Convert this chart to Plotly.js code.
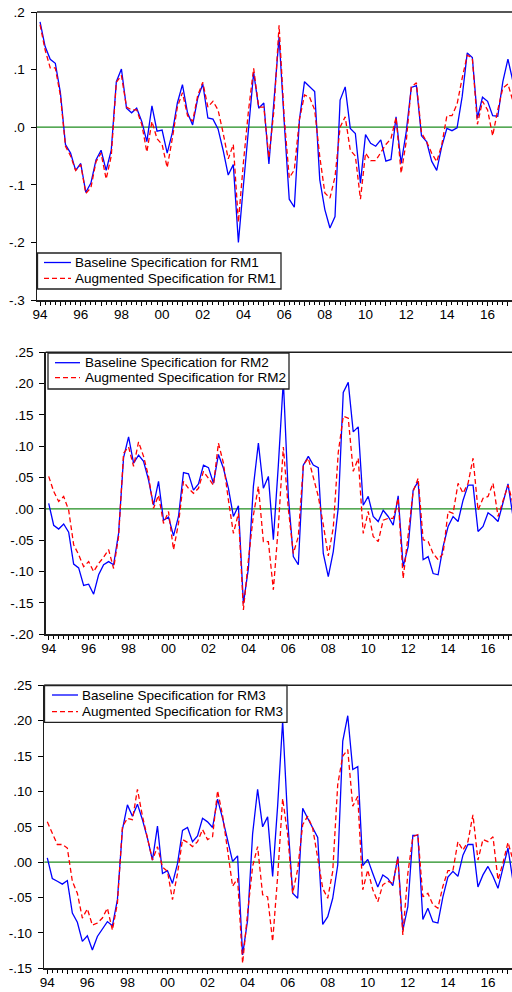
<!DOCTYPE html>
<html>
<head>
<meta charset="utf-8">
<script src="https://cdn.plot.ly/plotly-3.0.1.min.js"></script>
<style>
html,body{margin:0;padding:0;background:#fff;}
#chart{width:512px;height:992px;}
</style>
</head>
<body>
<div id="chart"></div>
<script>
// ---------------- DATA ----------------
// Quarterly observations, 1994Q1 .. 2017Q2
const firstYear = 1994;
const nObs = 94;
const periods = [];
for (let k = 0; k < nObs; k++) {
  periods.push((firstYear + Math.floor(k / 4)) + 'Q' + ((k % 4) + 1));
}

const baselineRM1 = [
  .183,.140,.118,.111,.060,-.030,-.045,-.075,-.063,-.113,
  -.097,-.057,-.040,-.075,-.040,.079,.101,.033,.025,.033,
  .010,-.025,.037,-.007,-.005,-.045,-.010,.042,.074,.025,
  .004,.050,.075,.016,.014,-.003,-.040,-.083,-.065,-.200,
  -.100,.000,.095,.033,.042,-.064,.040,.157,.010,-.125,
  -.139,.013,.079,.070,.062,-.091,-.143,-.175,-.155,.047,
  .070,-.002,-.011,-.097,-.013,-.028,-.033,-.022,-.059,-.056,
  .018,-.063,-.008,.069,.072,-.015,-.025,-.059,-.075,-.033,
  -.002,-.006,-.001,.053,.129,.121,.016,.052,.045,.020,
  .019,.079,.118,.079
];
const augmentedRM1 = [
  .178,.134,.103,.103,.055,-.033,-.050,-.075,-.065,-.115,
  -.105,-.060,-.045,-.090,-.050,.078,.090,.035,.030,.030,
  .005,-.043,.010,-.020,-.030,-.070,-.020,.035,.060,.020,
  .010,.055,.078,.035,.045,.030,-.010,-.055,-.030,-.165,
  -.060,.030,.102,.035,.035,-.053,.030,.177,.018,-.088,
  -.074,.013,.056,.052,.030,-.051,-.114,-.123,-.086,.000,
  .018,-.040,-.050,-.125,-.045,-.058,-.058,-.045,-.030,-.020,
  .017,-.080,-.025,.070,.077,-.010,-.025,-.045,-.060,-.030,
  .020,.020,.040,.085,.125,.120,.005,.045,.030,-.015,
  .030,.068,.075,.045
];
const baselineRM2 = [
  .009,-.026,-.032,-.024,-.037,-.088,-.094,-.122,-.120,-.136,
  -.105,-.089,-.084,-.089,-.039,.082,.115,.073,.086,.076,
  .046,.006,.044,-.018,-.013,-.043,-.012,.058,.056,.030,
  .040,.070,.066,.041,.087,.065,.033,-.012,.005,-.151,
  -.095,.036,.105,.033,.052,-.049,.070,.205,.020,-.076,
  -.089,.070,.084,.070,.066,-.071,-.108,-.068,.002,.186,
  .202,.123,.131,.006,.020,-.012,-.020,-.002,-.012,-.026,
  .021,-.092,-.060,.030,.044,-.081,-.076,-.103,-.105,-.060,
  -.028,-.012,-.020,.014,.038,.038,-.036,-.028,-.006,-.012,
  -.020,.012,.040,-.012
];
const augmentedRM2 = [
  .052,.028,.012,.020,-.002,-.057,-.073,-.092,-.084,-.100,
  -.087,-.077,-.065,-.095,-.044,.089,.099,.068,.107,.084,
  .052,.001,.022,-.023,-.004,-.065,-.023,.044,.033,.025,
  .033,.060,.049,.038,.105,.073,.014,-.039,-.007,-.161,
  -.081,-.010,.036,-.052,-.052,-.129,-.028,.099,.000,-.071,
  -.044,.070,.081,.050,.020,-.025,-.075,-.030,.090,.148,
  .145,.060,.081,-.039,-.004,-.044,-.052,-.018,-.015,-.015,
  .017,-.111,-.044,.028,.049,-.049,-.052,-.071,-.081,-.071,
  -.004,-.007,.041,.025,.041,.081,-.002,.017,.020,.041,
  -.012,.014,.038,.009
];
const baselineRM3 = [
  .006,-.023,-.027,-.031,-.026,-.072,-.085,-.112,-.104,-.124,
  -.105,-.095,-.084,-.090,-.053,.046,.081,.065,.082,.060,
  .034,.003,.051,-.016,-.012,-.030,-.002,.045,.049,.029,
  .037,.062,.057,.049,.089,.062,.032,.001,.009,-.131,
  -.082,.040,.103,.050,.064,-.020,.080,.200,.060,-.044,
  -.051,.076,.062,.048,.035,-.088,-.077,-.051,-.004,.171,
  .207,.131,.135,-.005,.004,-.016,-.035,-.018,-.023,-.033,
  .008,-.096,-.063,.038,.038,-.081,-.065,-.084,-.086,-.049,
  -.021,-.013,-.020,.010,.025,.025,-.035,-.018,-.006,-.020,
  -.037,-.008,.020,-.027
];
const augmentedRM3 = [
  .057,.041,.025,.025,.020,-.027,-.044,-.079,-.066,-.089,
  -.086,-.079,-.065,-.096,-.058,.050,.062,.060,.103,.065,
  .032,.003,.022,-.007,-.013,-.053,-.016,.032,.028,.022,
  .029,.046,.032,.036,.101,.066,.017,-.034,-.023,-.143,
  -.072,-.006,.022,-.046,-.049,-.112,-.020,.090,.039,-.044,
  -.010,.053,.065,.048,.006,-.037,-.051,-.013,.110,.150,
  .159,.079,.093,-.039,-.011,-.039,-.056,-.032,-.027,-.030,
  .006,-.103,-.016,.036,.039,-.049,-.044,-.060,-.065,-.034,
  -.012,-.012,.029,.017,.029,.067,.003,.032,.029,.036,
  -.025,-.001,.028,.003
];

const seriesNames = [
  ['Baseline Specification for RM1', 'Augmented Specification for RM1'],
  ['Baseline Specification for RM2', 'Augmented Specification for RM2'],
  ['Baseline Specification for RM3', 'Augmented Specification for RM3']
];

const xTickYears = [1994,1995,1996,1997,1998,1999,2000,2001,2002,2003,2004,2005,
                    2006,2007,2008,2009,2010,2011,2012,2013,2014,2015,2016,2017];
const xTickText  = ['94','','96','','98','','00','','02','','04','',
                    '06','','08','','10','','12','','14','','16',''];

const yTicks1 = [-0.3,-0.2,-0.1,0,0.1,0.2];
const yTickText1 = ['-.3','-.2','-.1','.0','.1','.2'];
const yTicks2 = [-0.20,-0.15,-0.10,-0.05,0,0.05,0.10,0.15,0.20,0.25];
const yTickText2 = ['-.20','-.15','-.10','-.05','.00','.05','.10','.15','.20','.25'];
const yTicks3 = [-0.15,-0.10,-0.05,0,0.05,0.10,0.15,0.20,0.25];
const yTickText3 = ['-.15','-.10','-.05','.00','.05','.10','.15','.20','.25'];

// ---------------- LAYOUT ----------------
const W = 512, H = 992;
const fx = v => v / W;
const fy = v => 1 - v / H;

const xs = periods.map(p => +p.slice(0,4) + (+p.slice(5) - 1) / 4);

const panels = [
  {left:37,   top:12,    bottom:300,   yr:[-0.3,0.2],   tv:yTicks1, tt:yTickText1,
   base:baselineRM1, aug:augmentedRM1,
   box:[37.5,281,253,289], rows:[262.5,278.3], samp:[44,71], tx:74},
  {left:45.7, top:352.3, bottom:634.3, yr:[-0.2,0.25],  tv:yTicks2, tt:yTickText2,
   base:baselineRM2, aug:augmentedRM2,
   box:[48,289,353,389], rows:[362.7,377.7], samp:[55,80], tx:84},
  {left:44.3, top:685.3, bottom:968.3, yr:[-0.15,0.25], tv:yTicks3, tt:yTickText3,
   base:baselineRM3, aug:augmentedRM3,
   box:[44.5,287,685.5,722.3], rows:[695,711.7], samp:[52,78], tx:81}
];

const font = {family:'"Liberation Sans", Arial, sans-serif', size:13.5, color:'#000'};
const frameColor = '#1e1e1e';

const traces = [];
const layout = {
  width:W, height:H,
  margin:{l:0,r:0,t:0,b:0,pad:0},
  paper_bgcolor:'#fff', plot_bgcolor:'#fff',
  font:font, showlegend:false,
  shapes:[], annotations:[]
};

panels.forEach((p, i) => {
  const n = i === 0 ? '' : String(i + 1);
  const xa = 'x' + n, ya = 'y' + n;
  traces.push({
    x: xs, y: p.base, type:'scatter', mode:'lines', name: seriesNames[i][0],
    xaxis: xa, yaxis: ya, line:{color:'#0000ff', width:1.3}, showlegend:false
  });
  traces.push({
    x: xs, y: p.aug, type:'scatter', mode:'lines', name: seriesNames[i][1],
    xaxis: xa, yaxis: ya, line:{color:'#ff0000', width:1.3, dash:'5px,3px'}, showlegend:false
  });
  layout['xaxis' + n] = {
    domain:[fx(p.left), 1], range:[1993.85, 2017.2], anchor: ya,
    showline:true, linecolor:frameColor, linewidth:1.5, mirror:false,
    showgrid:false, zeroline:false,
    tickmode:'array', tickvals:xTickYears, ticktext:xTickText,
    ticks:'outside', ticklen:4, tickwidth:1, tickcolor:'#000',
    ticklabelstandoff:-3,
    minor:{tickmode:'linear', tick0:1994, dtick:0.25, ticks:'outside', ticklen:3, tickwidth:1, tickcolor:'#000', showgrid:false},
    tickfont:font, fixedrange:true
  };
  layout['yaxis' + n] = {
    domain:[fy(p.bottom), fy(p.top)], range:p.yr, anchor: xa,
    showline:true, linecolor:frameColor, linewidth:1.5,
    showgrid:false, zeroline:false,
    tickmode:'array', tickvals:p.tv, ticktext:p.tt,
    ticks:'outside', ticklen:5, tickwidth:1, tickcolor:'#000',
    ticklabelstandoff:3, tickfont:font, fixedrange:true
  };
  // green zero line
  layout.shapes.push({type:'line', xref: xa + ' domain', yref: ya,
    x0:0, x1:1, y0:0, y1:0, line:{color:'#1e8c1e', width:1.2}, layer:'below'});
  // top frame line
  layout.shapes.push({type:'line', xref:'paper', yref:'paper',
    x0:fx(p.left), x1:1, y0:fy(p.top), y1:fy(p.top),
    line:{color:frameColor, width:1.5}, layer:'above'});
  // legend box
  layout.shapes.push({type:'rect', xref:'paper', yref:'paper',
    x0:fx(p.box[0]), x1:fx(p.box[1]), y0:fy(p.box[3]), y1:fy(p.box[2]),
    fillcolor:'#fff', line:{color:'#222', width:1.3}, layer:'above'});
  // legend samples
  layout.shapes.push({type:'line', xref:'paper', yref:'paper',
    x0:fx(p.samp[0]), x1:fx(p.samp[1]), y0:fy(p.rows[0]), y1:fy(p.rows[0]),
    line:{color:'#0000ff', width:1.3}, layer:'above'});
  layout.shapes.push({type:'line', xref:'paper', yref:'paper',
    x0:fx(p.samp[0]), x1:fx(p.samp[1]), y0:fy(p.rows[1]), y1:fy(p.rows[1]),
    line:{color:'#ff0000', width:1.3, dash:'5px,3px'}, layer:'above'});
  // legend texts
  [0,1].forEach(r => {
    layout.annotations.push({xref:'paper', yref:'paper', x:fx(p.tx), y:fy(p.rows[r]),
      xanchor:'left', yanchor:'middle', showarrow:false, text:seriesNames[i][r],
      font:font, borderpad:0});
  });
});

Plotly.newPlot('chart', traces, layout, {displayModeBar:false, staticPlot:true});
</script>
</body>
</html>
